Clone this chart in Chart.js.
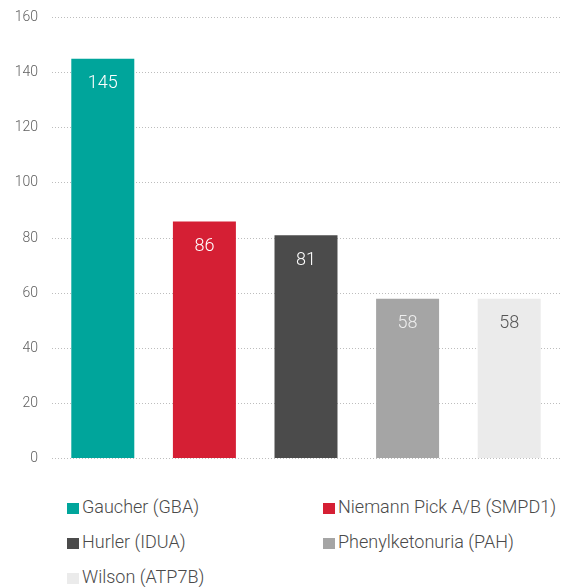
<!DOCTYPE html>
<html>
<head>
<meta charset="utf-8">
<script src="https://cdn.jsdelivr.net/npm/chart.js@4/dist/chart.umd.min.js"></script>
<style>
  body { margin:0; background:#fff; font-family:Roboto, sans-serif; overflow:hidden; }
  #wrap { position:relative; width:568px; height:587px; overflow:hidden; }
  #box { position:absolute; left:0; top:-5px; width:568px; height:486px; }
  #legend {
    position:absolute; left:67px; top:489px;
    display:grid; grid-template-columns:256px auto;
    font-size:18px; font-weight:300; color:#4a4a4a;
  }
  #legend div { height:35px; line-height:35px; white-space:nowrap; }
  #legend span { display:inline-block; width:12px; height:11px; margin-right:3px; vertical-align:-1px; }
</style>
</head>
<body>
<div id="wrap">
  <div id="box"><canvas id="chart"></canvas></div>
  <div id="legend"></div>
</div>
<script>
const categorias = ["Gaucher (GBA)", "Niemann Pick A/B (SMPD1)", "Hurler (IDUA)", "Phenylketonuria (PAH)", "Wilson (ATP7B)"];
const valores = [145, 86, 81, 58, 58];
const colores = ["#00a59b", "#d51f34", "#4b4b4b", "#a5a5a5", "#ebebeb"];
const coloresTexto = ["#ffffff", "#ffffff", "#ffffff", "#eeeeee", "#555555"];
const ticksY = [0, 20, 40, 60, 80, 100, 120, 140, 160];

// etiquetas dentro de cada barra
const etiquetas = {
    id: "etiquetas",
    afterDatasetsDraw(chart){
        const ctx = chart.ctx;
        const meta = chart.getDatasetMeta(0);
        ctx.save();
        ctx.font = "300 18px Roboto";
        ctx.textAlign = "center";
        ctx.textBaseline = "middle";
        meta.data.forEach((bar, i) => {
            ctx.fillStyle = coloresTexto[i];
            ctx.fillText(valores[i], bar.x, bar.y + 25);
        });
        ctx.restore();
    }
};

const chart = new Chart(
    document.getElementById("chart"),
    {
        type:"bar",
        data:{
            labels:categorias,
            datasets:[{
                data:valores,
                backgroundColor:colores,
                categoryPercentage:1,
                barPercentage:0.62
            }]
        },
        options:{
            responsive:true,
            maintainAspectRatio:false,
            animation:false,
            layout:{ padding:{ top:14, right:8, bottom:5 } },
            plugins:{ legend:{ display:false }, tooltip:{ enabled:false } },
            scales:{
                x:{ display:false },
                y:{
                    min:0,
                    max:160,
                    afterBuildTicks: axis => { axis.ticks = ticksY.map(v => ({ value:v })); },
                    afterFit: axis => { axis.width = 52; },
                    border:{ display:false, dash:[1, 2] },
                    grid:{ color:"#bdbdbd", drawTicks:false, lineWidth:1 },
                    ticks:{ color:"#5f5f5f", padding:14, font:{ family:"Roboto", size:14, weight:"300" } }
                }
            }
        },
        plugins:[etiquetas]
    }
);

const legend = document.getElementById("legend");
categorias.forEach((c, i) => {
    legend.innerHTML += `<div><span style="background:${colores[i]}"></span>${c}</div>`;
});
</script>
</body>
</html>
